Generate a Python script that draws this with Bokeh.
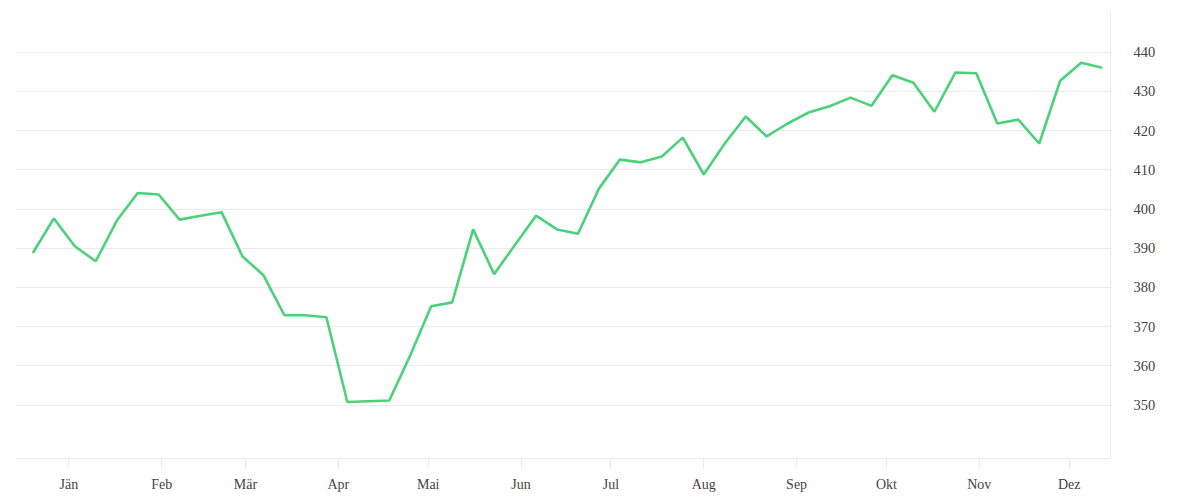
from datetime import datetime
from bokeh.plotting import figure
from bokeh.models import (ColumnDataSource, FixedTicker, LinearAxis, Range1d,
                          CustomJSTickFormatter)
from bokeh.embed import file_html
from bokeh.resources import INLINE

# ---- data ----
dates = ["2018-12-20", "2018-12-27", "2019-01-03", "2019-01-10", "2019-01-17",
         "2019-01-24", "2019-01-31", "2019-02-07", "2019-02-14", "2019-02-21",
         "2019-02-28", "2019-03-07", "2019-03-14", "2019-03-21", "2019-03-28",
         "2019-04-04", "2019-04-11", "2019-04-18", "2019-04-25", "2019-05-02",
         "2019-05-09", "2019-05-16", "2019-05-23", "2019-05-30", "2019-06-06",
         "2019-06-13", "2019-06-20", "2019-06-27", "2019-07-04", "2019-07-11",
         "2019-07-18", "2019-07-25", "2019-08-01", "2019-08-08", "2019-08-15",
         "2019-08-22", "2019-08-29", "2019-09-05", "2019-09-12", "2019-09-19",
         "2019-09-26", "2019-10-03", "2019-10-10", "2019-10-17", "2019-10-24",
         "2019-10-31", "2019-11-07", "2019-11-14", "2019-11-21", "2019-11-28",
         "2019-12-05", "2019-12-12"]
values = [388.8, 397.6, 390.5, 386.7, 397.0, 404.1, 403.7, 397.3, 398.3, 399.2,
          387.9, 383.1, 372.9, 372.9, 372.4, 350.8, 351.0, 351.2, 362.7, 375.2,
          376.2, 394.8, 383.4, 390.9, 398.3, 394.8, 393.7, 405.2, 412.6, 411.9,
          413.4, 418.2, 408.8, 416.7, 423.6, 418.5, 421.8, 424.6, 426.2, 428.4,
          426.3, 434.1, 432.2, 424.8, 434.8, 434.6, 421.8, 422.8, 416.7, 432.7,
          437.3, 436.0]
month_starts = ["2019-01-01", "2019-02-01", "2019-03-01", "2019-04-01",
                "2019-05-01", "2019-06-01", "2019-07-01", "2019-08-01",
                "2019-09-01", "2019-10-01", "2019-11-01", "2019-12-01"]
month_labels = ["Jän", "Feb", "Mär", "Apr", "Mai", "Jun", "Jul", "Aug",
                "Sep", "Okt", "Nov", "Dez"]
y_ticks = [350, 360, 370, 380, 390, 400, 410, 420, 430, 440]


def to_ms(s):
    return datetime.strptime(s, "%Y-%m-%d").timestamp() * 1000.0


x_ms = [to_ms(d) for d in dates]
tick_ms = [to_ms(d) for d in month_starts]
day = 86400000.0

GRID = "#ebebeb"
TEXT = "#444444"
FONT = "Liberation Serif"

p = figure(width=1184, height=494, output_backend="svg", toolbar_location=None,
           x_range=Range1d(tick_ms[0] - 17.8 * day, tick_ms[0] + 347.8 * day),
           y_range=Range1d(336.4, 450.1),
           x_axis_type=None, y_axis_location=None,
           min_border_left=15, min_border_top=12, min_border_right=74,
           min_border_bottom=36)
p.outline_line_color = None
p.background_fill_color = "white"
p.border_fill_color = "white"

src = ColumnDataSource(dict(x=x_ms, y=values))
p.line("x", "y", source=src, line_color="#4cd17b", line_width=2.6)

# x axis
xaxis = LinearAxis(ticker=FixedTicker(ticks=tick_ms))
xaxis.formatter = CustomJSTickFormatter(args=dict(labels=month_labels), code="""
    const d = new Date(tick);
    return labels[d.getUTCMonth()];
""")
xaxis.axis_line_color = GRID
xaxis.major_tick_line_color = GRID
xaxis.major_tick_out = 10
xaxis.major_tick_in = 0
xaxis.minor_tick_line_color = None
xaxis.major_label_standoff = 8
xaxis.major_label_text_font = FONT
xaxis.major_label_text_font_size = "14px"
xaxis.major_label_text_color = TEXT
p.add_layout(xaxis, "below")

# y axis on the right
yaxis = LinearAxis(ticker=FixedTicker(ticks=y_ticks))
yaxis.axis_line_color = GRID
yaxis.major_tick_line_color = None
yaxis.major_tick_out = 0
yaxis.major_tick_in = 0
yaxis.minor_tick_line_color = None
yaxis.major_label_standoff = 23
yaxis.major_label_text_font = FONT
yaxis.major_label_text_font_size = "14.5px"
yaxis.major_label_text_color = TEXT
p.add_layout(yaxis, "right")

p.xgrid.ticker = FixedTicker(ticks=tick_ms)
p.ygrid.ticker = FixedTicker(ticks=y_ticks)
p.xgrid.grid_line_color = GRID
p.ygrid.grid_line_color = GRID

open("out.html", "w").write(file_html(p, INLINE))
